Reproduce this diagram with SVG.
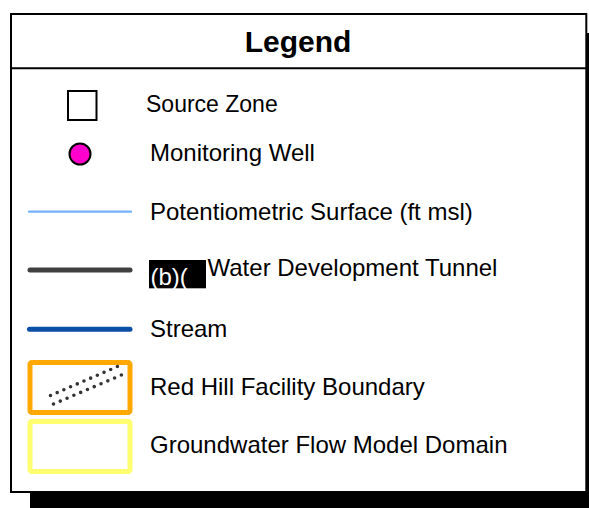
<svg xmlns="http://www.w3.org/2000/svg" width="589" height="508" viewBox="0 0 589 508">
<style>
.lbl{font-family:"Liberation Sans",Arial,sans-serif;font-size:24px;fill:#000}
.title{font-family:"Liberation Sans",Arial,sans-serif;font-size:30px;font-weight:bold;fill:#000}
.dots{stroke:#333;stroke-width:3.6;stroke-linecap:round}
</style>
<rect x="0" y="0" width="589" height="508" fill="#fff"/>
<g id="frame">
<rect x="30" y="33" width="580" height="480" fill="#000"/>
<rect x="11" y="14" width="575.3" height="478" fill="#fff" stroke="#000" stroke-width="2"/>
<line x1="11" y1="68.3" x2="586.3" y2="68.3" stroke="#000" stroke-width="2"/>
<text class="title" x="298" y="52.3" text-anchor="middle">Legend</text>
</g>
<g id="source-zone">
<rect x="68" y="91" width="28.5" height="29" fill="#fff" stroke="#000" stroke-width="2"/>
<text class="lbl" x="146" y="111.5" style="font-size:23px">Source Zone</text>
</g>
<g id="monitoring-well">
<circle cx="80" cy="154" r="10.5" fill="#FF00CC" stroke="#000" stroke-width="2"/>
<text class="lbl" x="150" y="160.7">Monitoring Well</text>
</g>
<g id="connectors">
<g id="potentiometric-surface">
<line x1="29" y1="211.7" x2="131" y2="211.7" stroke="#73B2FF" stroke-width="2.2" stroke-linecap="round"/>
</g>
<g id="tunnel">
<line x1="30" y1="270" x2="130" y2="270" stroke="#404040" stroke-width="5" stroke-linecap="round"/>
</g>
<g id="stream">
<line x1="29.5" y1="329.3" x2="130" y2="329.3" stroke="#0B4EA6" stroke-width="5" stroke-linecap="round"/>
</g>
</g>
<text class="lbl" x="150" y="220">Potentiometric Surface (ft msl)</text>
<g id="tunnel-label">
<rect x="149" y="260" width="57" height="28.3" fill="#000"/>
<text class="lbl" x="150.5" y="285" style="fill:#fff">(b)(</text>
<text class="lbl" x="207.5" y="276">Water Development Tunnel</text>
</g>
<text class="lbl" x="150" y="336.7">Stream</text>
<g id="facility-boundary">
<rect x="30" y="362.5" width="100" height="50" rx="2" fill="#fff" stroke="#FFA800" stroke-width="5"/>
<line class="dots" x1="50.5" y1="395.5" x2="117.5" y2="366.5" stroke-dasharray="0 7.29"/>
<line class="dots" x1="53.5" y1="404" x2="121.5" y2="375" stroke-dasharray="0 7.38"/>
<text class="lbl" x="150" y="395">Red Hill Facility Boundary</text>
</g>
<g id="model-domain">
<rect x="30" y="421.5" width="100" height="50" rx="2" fill="#fff" stroke="#FFFF70" stroke-width="5"/>
<text class="lbl" x="150" y="453.3">Groundwater Flow Model Domain</text>
</g>
</svg>
